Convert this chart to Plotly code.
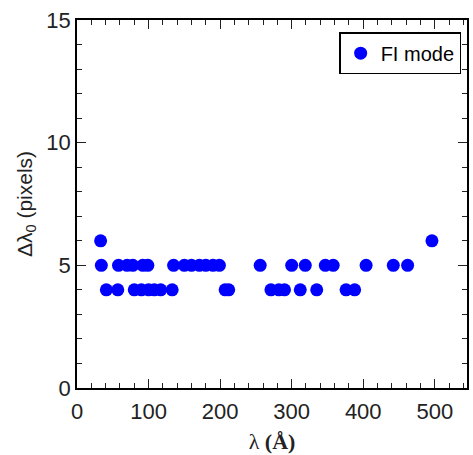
import plotly.graph_objects as go

# Data
wavelength_6 = [33, 496]
shift_6 = [6, 6]

wavelength_5 = [34, 58, 70, 78, 92, 99, 135, 150, 160, 171, 180, 190, 199, 256, 300, 319, 347, 358, 404, 442, 462]
shift_5 = [5] * len(wavelength_5)

wavelength_4 = [41, 57, 80, 90, 100, 108, 117, 133, 207, 212, 271, 282, 290, 312, 335, 376, 388]
shift_4 = [4] * len(wavelength_4)

x_vals = wavelength_6 + wavelength_5 + wavelength_4
y_vals = shift_6 + shift_5 + shift_4

x_ticks = [0, 100, 200, 300, 400, 500]
y_ticks = [0, 5, 10, 15]

fig = go.Figure()
fig.add_trace(go.Scatter(
    x=x_vals, y=y_vals, mode="markers", name="FI mode",
    marker=dict(color="#0000ff", size=13, line=dict(width=0)),
))

axis_common = dict(
    showgrid=False, zeroline=False, showline=True, linecolor="black", linewidth=1.5,
    mirror="ticks", ticks="inside", ticklen=9, tickwidth=1.3, tickcolor="#222",
    tickfont=dict(family="Liberation Sans, Arial", size=22, color="#222"),
)

fig.update_layout(
    width=473, height=455,
    margin=dict(l=77, r=4, t=20, b=67),
    paper_bgcolor="white", plot_bgcolor="white",
    showlegend=True,
    legend=dict(
        x=0.985, y=0.967, xanchor="right", yanchor="top",
        bordercolor="black", borderwidth=1.5, bgcolor="white",
        font=dict(family="Liberation Sans, Arial", size=20, color="black"),
        itemwidth=30, tracegroupgap=0,
    ),
    xaxis=dict(
        range=[0, 545], tickvals=x_ticks, ticktext=[str(v) for v in x_ticks],
        ticklabelstandoff=3,
        minor=dict(dtick=20, tick0=0, ticks="inside", ticklen=5, tickcolor="#222", tickwidth=1.2),
        title=dict(text="λ <b>(Å)</b>", font=dict(family="Liberation Serif, Times New Roman", size=22, color="#222"), standoff=10),
        **axis_common,
    ),
    yaxis=dict(
        range=[0, 15], tickvals=y_ticks, ticktext=[str(v) for v in y_ticks],
        minor=dict(dtick=1, tick0=0, ticks="inside", ticklen=5, tickcolor="#222", tickwidth=1.2),
        title=dict(text="Δλ<sub>0</sub> (pixels)", font=dict(family="Liberation Sans, Arial", size=21, color="#222"), standoff=8),
        **axis_common,
    ),
)

fig.write_html("out.html")
